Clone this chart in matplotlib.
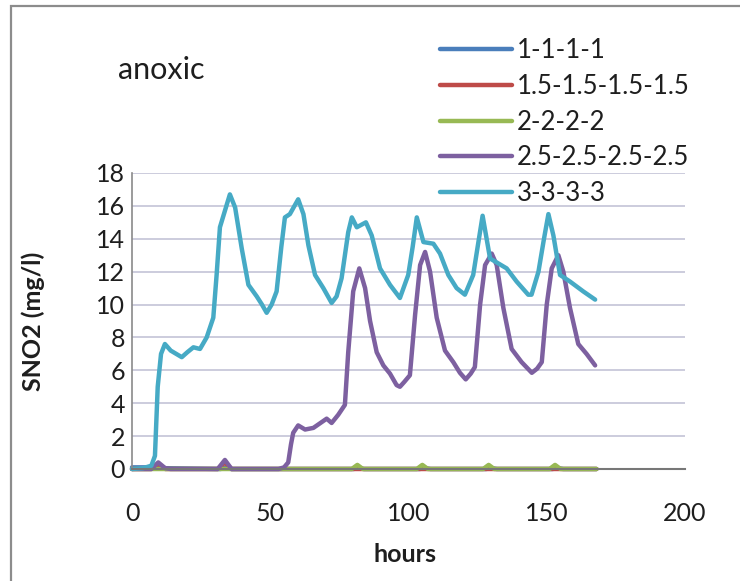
import matplotlib
matplotlib.use("Agg")
import matplotlib.pyplot as plt
from matplotlib.patches import Rectangle

plt.rcParams['font.family'] = ['Lato', 'DejaVu Sans']

# ---- data ----
labels = ["1-1-1-1", "1.5-1.5-1.5-1.5", "2-2-2-2", "2.5-2.5-2.5-2.5", "3-3-3-3"]
colors = ["#4A7EBB", "#BE4B48", "#98B954", "#7D60A0", "#46AAC5"]

h_s1 = [0, 8, 10, 12, 32, 34, 36, 80, 82, 84, 104, 106, 108, 128, 130, 132, 152, 154, 156, 168]
v_s1 = [0.1, 0.1, 0.15, 0.05, 0, 0.1, 0, 0, 0.05, 0, 0, 0.05, 0, 0, 0.05, 0, 0, 0.05, 0, 0]

h_s2 = [0, 7, 9.5, 12, 31, 33.6, 36, 168]
v_s2 = [0, 0, 0.3, 0, 0, 0.4, 0, 0]

h_s3 = [0, 56, 79.5, 81.5, 83.5, 103, 105, 107, 127, 129, 131, 151, 153, 155, 168]
v_s3 = [0, 0, 0, 0.25, 0, 0, 0.25, 0, 0, 0.25, 0, 0, 0.25, 0, 0]

h_s4 = [0, 7, 9.5, 12, 14, 31, 33.6, 36, 53, 55, 56.5, 57.5, 58.3, 60.1, 62.6, 65.6,
        68.6, 70.4, 72.2, 74.6, 77, 78.2, 80, 82.2, 84.3, 86.1, 88.5, 90.9, 93.3,
        95.7, 96.9, 98.5, 100.5, 102.4, 104.2, 106, 107.8, 110.2, 113.2, 116.2,
        118.6, 120.7, 122.5, 124, 125.9, 127.7, 130.1, 131.9, 134.3, 137.3, 140.9,
        144.6, 146.5, 148.2, 150, 151.8, 154.2, 156, 158.4, 161.4, 164.4, 167.5]
v_s4 = [0, 0, 0.4, 0.05, 0, 0, 0.55, 0, 0, 0.1, 0.4, 1.5, 2.2, 2.65, 2.4, 2.5,
        2.85, 3.06, 2.8, 3.3, 3.9, 7.1, 10.8, 12.2, 11.0, 9.0, 7.1, 6.3, 5.8,
        5.1, 5.0, 5.3, 5.7, 9.4, 12.4, 13.2, 12.0, 9.2, 7.2, 6.5,
        5.85, 5.45, 5.8, 6.2, 10.0, 12.4, 13.1, 12.4, 9.8, 7.3, 6.5,
        5.85, 6.1, 6.5, 10.0, 12.2, 13.0, 12.0, 9.8, 7.6, 7.0, 6.3]

h_s5 = [0, 4, 7, 8.3, 9.3, 10.5, 11.9, 14, 18, 20, 22.2, 24.6, 27, 29.4, 30.6,
        31.8, 33.6, 35.4, 37.3, 39.7, 42.1, 45.1, 47, 48.7, 50.5, 52.3, 54, 55.3,
        57.1, 60.1, 62, 63.8, 66.2, 69.2, 72.2, 74, 75.8, 78.2, 79.5, 81.3, 84.6,
        86.7, 89.7, 93.3, 96.9, 99.9, 101.5, 103, 105.4, 109, 111.4, 114.4, 117.4,
        120.4, 123.4, 125, 126.8, 129.5, 132.5, 135.5, 139.1, 143.3, 144.5, 147,
        149, 150.6, 152.4, 154.8, 158.4, 163.2, 167.5]
v_s5 = [0, 0.05, 0.2, 0.8, 5.0, 7.0, 7.6, 7.2, 6.8, 7.1, 7.4, 7.3, 8.0, 9.2, 11.8,
        14.7, 15.7, 16.7, 15.9, 13.4, 11.2, 10.5, 10.0, 9.5, 10.0, 10.8, 13.5, 15.3,
        15.5, 16.4, 15.5, 13.6, 11.8, 11.0, 10.1, 10.5, 11.6, 14.4, 15.3, 14.7, 15.0,
        14.2, 12.2, 11.2, 10.4, 11.8, 13.5, 15.3, 13.8, 13.7, 13.1, 11.8, 11.0,
        10.6, 11.8, 13.5, 15.4, 12.8, 12.5, 12.2, 11.4, 10.6, 10.6, 12.0,
        14.0, 15.5, 14.2, 11.8, 11.4, 10.8, 10.3]

series_h = [h_s1, h_s2, h_s3, h_s4, h_s5]
series_v = [v_s1, v_s2, v_s3, v_s4, v_s5]

x_ticks = [0, 50, 100, 150, 200]
y_ticks = [0, 2, 4, 6, 8, 10, 12, 14, 16, 18]

# ---- figure ----
W, H = 740, 581
fig = plt.figure(figsize=(W / 100, H / 100), dpi=100)
fig.patch.set_facecolor("white")

# outer chart border (left/top visible, right/bottom cropped)
fig.patches.append(Rectangle((11 / W, -0.05), 1.2, 1.05 - 6 / H,
                             transform=fig.transFigure, fill=False,
                             edgecolor="#8c8c8c", linewidth=1.6, zorder=0))

L, R, T, B = 132, 685, 173, 469
ax = fig.add_axes([L / W, 1 - B / H, (R - L) / W, (B - T) / H])

for xs, ys, c, lab in zip(series_h, series_v, colors, labels):
    ax.plot(xs, ys, color=c, linewidth=3.2, label=lab, clip_on=False,
            solid_joinstyle="round", solid_capstyle="round")

ax.set_xlim(0, 200)
ax.set_ylim(0, 18)
ax.set_xticks(x_ticks)
ax.set_yticks(y_ticks)
ax.tick_params(axis="both", length=0, labelsize=18, colors="#1e1e1e")
ax.tick_params(axis="x", pad=24)
ax.tick_params(axis="y", pad=5)

ax.grid(axis="y", color="#c8c8da", linewidth=1.3)
ax.set_axisbelow(True)
for s in ["top", "right"]:
    ax.spines[s].set_visible(False)
ax.spines["left"].set_color("#8a8a8a")
ax.spines["left"].set_linewidth(1.2)
ax.spines["bottom"].set_color("#777777")
ax.spines["bottom"].set_linewidth(1.5)

ax.set_xlabel("hours", fontsize=18, fontweight="bold", color="#1e1e1e")
ax.xaxis.set_label_coords((405 - L) / (R - L), (B - 555) / (B - T))
ax.xaxis.label.set_va("center")
ax.set_ylabel("SNO2 (mg/l)", fontsize=18, fontweight="bold", color="#1e1e1e")
ax.yaxis.set_label_coords((33 - L) / (R - L), 0.5)
ax.yaxis.label.set_va("center")

fig.text(118 / W, 1 - 70 / H, "anoxic", fontsize=22, color="#1e1e1e",
         ha="left", va="center")

leg = ax.legend(loc="upper left", bbox_to_anchor=(440 / W, 1 - 38 / H),
                bbox_transform=fig.transFigure, frameon=False, fontsize=18.5,
                borderpad=0, borderaxespad=0, handlelength=2.8,
                handletextpad=0.2, labelspacing=0.42)
for t in leg.get_texts():
    t.set_color("#1e1e1e")

fig.savefig("out.png", dpi=100, facecolor="white")
